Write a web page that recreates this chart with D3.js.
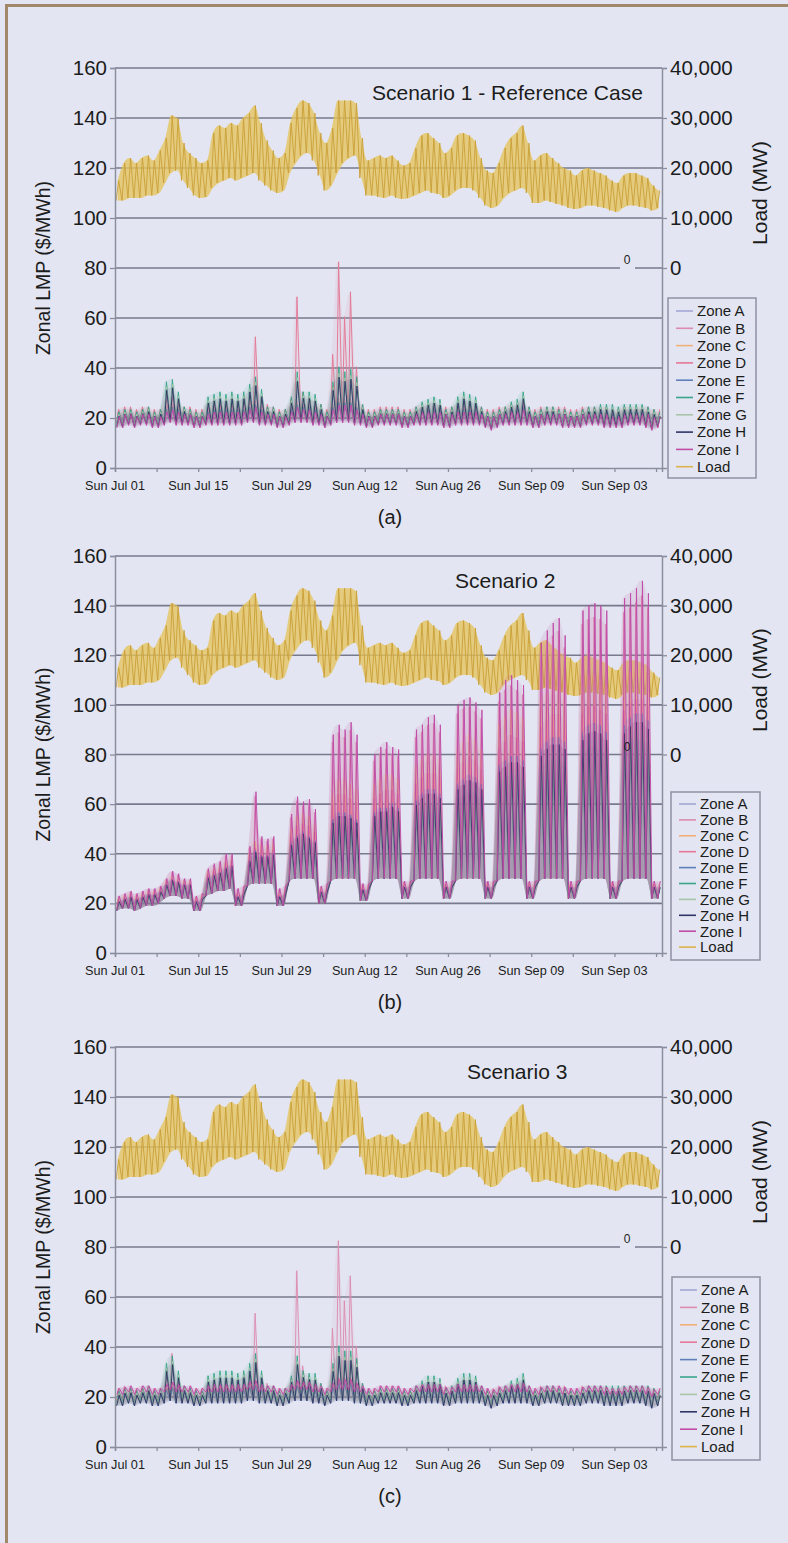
<!DOCTYPE html>
<html><head><meta charset="utf-8">
<script src="https://cdn.jsdelivr.net/npm/d3@7"></script>
<style>
body{margin:0;background:#e3e6f2;}
svg{display:block;font-family:"Liberation Sans",Arial,sans-serif;}
</style>
</head><body>
<svg id="chart" width="788" height="1543"></svg>
<script>
// ---------------- DATA (daily values) ----------------
const zoneNames = ['Zone A','Zone B','Zone C','Zone D','Zone E','Zone F','Zone G','Zone H','Zone I'];
const lmpTicks = [0,20,40,60,80,100,120,140,160];
const loadTicks = [0,10000,20000,30000,40000];
const dateLabelDays = [0,14,28,42,56,70,84];
const dateLabels = ['Sun Jul 01','Sun Jul 15','Sun Jul 29','Sun Aug 12','Sun Aug 26','Sun Sep 09','Sun Sep 03'];
const titles = ['Scenario 1 - Reference Case','Scenario 2','Scenario 3'];
const captions = ['(a)','(b)','(c)'];

// daily load peak / trough (MW), Jul 01 .. Sep 30
const loadPeak = [
 17500,21000,22000,21000,22000,22500,21500,
 23500,26000,30500,30000,25000,23000,22000,
 21000,21500,27000,28500,28000,29000,28500,
 30000,31000,32500,29000,25500,23500,22000,
 23000,29000,32000,33500,33000,31000,27000,
 25000,28000,33500,33500,33500,33000,26000,
 21500,22000,22500,22000,22500,21500,20500,
 21000,24000,26500,27000,26000,25000,23000,
 24000,26500,27000,26500,25500,22000,19500,
 19000,21000,24000,26000,27000,28500,25000,
 21500,22500,23000,22000,21000,20000,19500,
 18500,19500,20000,19500,19000,18500,17500,
 17000,18500,19000,19000,18500,18000,16500,
 15500];
const loadTrough = [
 13500,13500,14000,14000,14000,14500,14500,
 15000,17000,19000,19500,17500,16000,14500,
 14000,14200,16000,17000,17500,18000,17500,
 18000,18500,19000,17500,16500,15500,15000,
 15500,19000,21000,22500,23000,21500,18500,
 15500,16500,19000,21000,22000,22500,18000,
 14500,14500,14200,14000,14500,14000,13800,
 14000,14500,15000,15500,15000,14800,14000,
 14500,15500,16000,16000,15500,14000,12500,
 12000,12500,14000,15000,15500,16000,15000,
 13000,13000,13500,13200,12800,12500,12000,
 11800,12000,12500,12500,12200,12000,11500,
 11200,12000,12500,12500,12200,12000,11500,
 12000];

// Scenario 1 ($/MWh): daily trough, general peak, congested-zone peak, spike-zone peak
const s1Low = [
 17,17,18,17,18,18,17, 17,18,19,18,18,18,17, 17,18,18,18,18,18,18,
 18,19,19,18,18,18,17, 17,18,19,19,19,18,18, 17,18,19,19,19,18,18,
 17,17,18,18,18,18,17, 17,18,18,18,18,18,17, 17,18,18,18,18,18,17,
 16,17,18,18,18,18,18, 17,17,18,18,18,17,17, 17,17,18,18,18,17,17,
 17,17,18,18,18,17,16, 17];
const s1Body = [
 22,23,23,22,23,23,22, 22,24,25,24,23,23,22, 22,23,24,24,24,24,24,
 24,25,26,24,23,23,22, 22,24,26,25,25,24,23, 22,25,27,27,27,25,23,
 22,22,23,23,23,23,22, 22,23,24,24,24,24,23, 23,24,24,24,24,23,22,
 22,23,23,24,24,25,23, 22,23,23,23,23,23,22, 22,23,23,23,23,23,22,
 22,23,23,23,23,23,22, 22];
const s1Mid = [
 22,23,23,22,23,24,22, 23,34,35,30,24,23,22, 22,28,29,30,29,30,29,
 30,33,36,31,24,24,22, 23,28,38,30,30,29,25, 22,34,40,38,39,36,25,
 22,22,23,23,23,23,22, 22,24,26,27,28,27,23, 24,28,30,29,28,24,22,
 22,23,24,26,27,30,24, 22,23,24,24,23,23,22, 22,23,24,24,25,25,25,
 24,25,25,25,25,24,23, 22];
const s1Peak = [
 23,24,24,23,24,24,23, 23,27,28,26,24,24,23, 23,25,26,26,26,26,26,
 27,28,52,27,25,24,23, 23,27,68,30,28,26,25, 23,45,82,60,70,40,25,
 23,23,24,24,24,24,23, 23,24,25,25,26,25,24, 24,25,26,26,25,24,23,
 23,24,24,25,25,26,24, 23,24,24,24,24,24,23, 23,24,24,24,24,24,23,
 23,24,24,24,24,24,23, 23];

// Scenario 2 ($/MWh): daily trough, body peak, mid-zone peak, pink-zone peak
const s2Low = [
 17,18,18,17,18,19,19, 20,22,23,23,22,22,17, 17,23,24,25,25,26,19,
 19,27,28,28,28,28,19, 19,29,30,30,30,30,20, 20,29,30,30,30,30,21,
 21,29,30,30,30,30,22, 22,29,30,30,30,30,22, 22,29,30,30,30,30,22,
 22,29,30,30,30,30,22, 22,29,30,30,30,30,22, 22,29,30,30,30,30,22,
 22,29,30,30,30,30,22, 22];
const s2Body = [
 21,22,23,22,23,24,24, 25,28,30,29,28,28,21, 22,31,32,33,35,36,23,
 24,38,42,40,40,41,23, 24,45,48,50,48,46,25, 25,55,58,58,57,55,26,
 26,58,60,60,62,60,27, 27,63,66,68,68,66,27, 27,70,72,74,73,70,27,
 27,78,80,82,82,80,27, 27,85,88,90,90,88,27, 27,92,95,96,95,92,27,
 27,95,98,100,100,97,27, 27];
const s2Mid = [
 22,23,24,23,24,25,25, 26,29,31,30,29,29,22, 23,33,34,35,37,38,24,
 25,40,45,44,43,44,24, 25,50,55,56,55,52,26, 26,65,70,70,68,66,27,
 27,68,70,72,72,70,28, 28,75,78,80,80,78,28, 28,82,85,88,86,82,28,
 28,92,95,98,97,95,28, 28,102,105,108,108,105,28, 28,108,112,112,110,108,28,
 28,110,113,115,115,112,28, 28];
const s2Peak = [
 23,24,25,24,25,26,26, 27,30,33,32,30,30,23, 24,34,36,37,40,40,26,
 27,43,65,47,46,47,26, 27,56,63,61,62,58,27, 28,88,92,90,93,88,28,
 28,80,83,85,83,82,29, 29,90,92,95,96,92,29, 29,100,102,103,101,98,29,
 29,105,110,112,110,108,29, 29,125,130,133,135,128,29, 29,138,140,141,140,138,29,
 29,143,145,147,150,145,29, 29];

// Scenario 3 ($/MWh): congested-zone peak and spike-zone peak (base band as Scenario 1)
const s3Mid = [
 22,23,23,22,23,24,22, 23,33,36,30,24,23,22, 22,28,29,30,30,30,29,
 30,33,37,30,24,24,22, 23,28,36,30,29,29,25, 22,33,40,38,38,35,25,
 22,22,23,23,23,23,22, 22,24,26,28,28,27,23, 24,27,29,29,28,24,22,
 22,23,24,26,27,29,24, 22,23,24,24,23,23,22, 22,23,24,24,24,24,24,
 24,24,24,24,24,24,23, 22];
const s3Peak = [
 23,24,24,23,24,24,23, 23,28,37,27,24,24,23, 23,25,26,26,26,26,26,
 27,28,53,27,25,24,23, 23,27,70,32,28,26,25, 23,47,82,58,68,40,25,
 23,23,24,24,24,24,23, 23,24,25,25,26,25,24, 24,25,26,26,25,24,23,
 23,24,24,25,25,26,24, 23,24,24,24,24,24,23, 23,24,24,24,24,24,23,
 23,24,24,24,24,24,23, 23];

// zone -> [which daily peak series, share of swing, trough shift]
const s1Zones = [['body',1.0,0],['body',1.05,0.5],['body',0.95,0],['peak',1.0,0.5],['body',0.9,0],
                 ['mid',1.0,0.5],['mid',0.9,0],['mid',0.85,-0.5],['body',0.9,-1]];
const s2Zones = [['mid',0.95,0],['peak',0.95,0],['mid',1.0,0],['mid',0.85,0],['body',0.95,0],
                 ['body',0.8,0],['body',0.85,0],['body',0.9,0],['peak',1.0,0]];
const s3Zones = [['body',0.95,0],['peak',1.0,0.5],['body',0.9,0],['body',1.05,0.5],['body',0.9,-0.5],
                 ['mid',1.0,0.5],['mid',0.9,0],['mid',0.85,-0.5],['body',0.5,4]];

const scenarios = [
  {low:s1Low, body:s1Body, mid:s1Mid, peak:s1Peak, zones:s1Zones},
  {low:s2Low, body:s2Body, mid:s2Mid, peak:s2Peak, zones:s2Zones},
  {low:s1Low, body:s1Body, mid:s3Mid, peak:s3Peak, zones:s3Zones}
];

// ---------------- STYLE / LAYOUT ----------------
const zoneColors = ['#a4a8d4','#dc8cb0','#f0b07a','#e47896','#5f7fb8','#3aa58a','#a8c4a8','#2f3566','#c04ca6'];
const loadColor = '#dcb24a';
const panels = [
  {top:68,  bottom:468,  titleX:372, legend:{x:668,y:298,w:88,h:180,step:17.3,first:13}, zeroBg:true},
  {top:556, bottom:953,  titleX:455, legend:{x:671,y:792,w:89,h:168,step:15.9,first:12}, zeroBg:false},
  {top:1047,bottom:1447, titleX:467, legend:{x:672,y:1277,w:88,h:183,step:17.4,first:13}, zeroBg:true}
];
const X0 = 115, X1 = 662;
const DAY = 864e5, t0 = Date.UTC(2007,6,1);
const x = d3.scaleUtc().domain([new Date(t0), new Date(Date.UTC(2007,9,1))]).range([X0, X1]);
const dx = f => x(new Date(t0 + f*DAY));
const ink = '#1c1c1c', gridC = '#767a8c';

const svg = d3.select('#chart');
svg.append('rect').attr('width',788).attr('height',1543).attr('fill','#e3e6f2');
svg.append('path').attr('d','M6.5,1543 V5.5 H788').attr('fill','none')
   .attr('stroke','#a08868').attr('stroke-width',3);

panels.forEach((P, pi) => {
  const sc = scenarios[pi];
  const g = svg.append('g');
  const yL = d3.scaleLinear().domain([0,160]).range([P.bottom, P.top]);
  const yR = d3.scaleLinear().domain([-40000,40000]).range([P.bottom, P.top]);

  const clipId = 'clip' + pi;
  svg.append('clipPath').attr('id', clipId).append('rect')
     .attr('x', X0).attr('y', P.top - 2).attr('width', X1 - X0).attr('height', P.bottom - P.top + 2);

  // gridlines
  g.selectAll('.grid').data(lmpTicks.filter(d => d > 0)).join('line')
    .attr('x1', X0).attr('x2', X1).attr('y1', d => yL(d)).attr('y2', d => yL(d))
    .attr('stroke', gridC).attr('stroke-width', 1.6);

  const data = g.append('g').attr('clip-path', `url(#${clipId})`);

  // load band
  const days = d3.range(loadPeak.length);
  data.append('path').datum(days)
    .attr('d', d3.area().x(i => dx(i + 0.45)).y0(i => yR(loadTrough[i])).y1(i => yR(loadPeak[i])).curve(d3.curveMonotoneX))
    .attr('fill', '#e6c35c').attr('opacity', 0.78);
  const loadPts = [];
  days.forEach(i => { loadPts.push([i + 0.18, loadTrough[i]]); loadPts.push([i + 0.62, loadPeak[i]]); });
  data.append('path').datum(loadPts)
    .attr('d', d3.line().x(p => dx(p[0])).y(p => yR(p[1])))
    .attr('fill', 'none').attr('stroke', '#c99f38').attr('stroke-width', 0.9);

  // zones: soft daily band + zigzag line
  sc.zones.forEach((z, zi) => {
    const arr = sc[z[0]], share = z[1], off = z[2];
    const rows = days.map(i => {
      const lo = sc.low[i] + off;
      return {i, lo, hi: lo + share * (arr[i] - sc.low[i])};
    });
    data.append('path').datum(rows)
      .attr('d', d3.area().x(r => dx(r.i + 0.4)).y0(r => yL(r.lo)).y1(r => yL(r.hi)).curve(d3.curveMonotoneX))
      .attr('fill', zoneColors[zi]).attr('opacity', pi === 1 ? 0.13 : 0.1);
    const pts = [];
    rows.forEach(r => {
      pts.push([r.i + 0.2 + zi * 0.012, r.lo]);
      pts.push([r.i + 0.55 + zi * 0.02, r.hi]);
    });
    data.append('path').datum(pts)
      .attr('d', d3.line().x(p => dx(p[0])).y(p => yL(p[1])))
      .attr('fill', 'none').attr('stroke', zoneColors[zi]).attr('stroke-width', 1.0).attr('opacity', 0.95);
  });

  // stray "0" label on the 80 gridline
  if (P.zeroBg) g.append('rect').attr('x', 620).attr('y', yL(80) - 7).attr('width', 15).attr('height', 12).attr('fill', '#e3e6f2');
  g.append('text').attr('x', 627).attr('y', yL(80) - 4).attr('text-anchor', 'middle')
    .attr('font-size', 12).attr('fill', ink).text('0');

  // axes
  const left = g.append('g').attr('transform', `translate(${X0},0)`)
    .call(d3.axisLeft(yL).tickValues(lmpTicks).tickSize(5).tickPadding(3));
  const right = g.append('g').attr('transform', `translate(${X1},0)`)
    .call(d3.axisRight(yR).tickValues(loadTicks).tickFormat(d3.format(',')).tickSize(5).tickPadding(3));
  const bottom = g.append('g').attr('transform', `translate(0,${P.bottom})`)
    .call(d3.axisBottom(x).ticks(d3.utcSunday.every(1)).tickFormat('').tickSize(4));
  [left, right, bottom].forEach(a => {
    a.select('.domain').attr('stroke', '#8a8e9e').attr('stroke-width', 1.5);
    a.selectAll('.tick line').attr('stroke', '#8a8e9e').attr('stroke-width', 1.3);
    a.selectAll('.tick text').attr('font-size', 20.5).attr('fill', ink)
      .attr('font-family', '"Liberation Sans",Arial,sans-serif');
  });

  // date labels
  g.selectAll('.dl').data(dateLabelDays).join('text')
    .attr('x', d => dx(d)).attr('y', P.bottom + 21.5).attr('text-anchor', 'middle')
    .attr('font-size', 12.7).attr('fill', ink).text((d, i) => dateLabels[i]);

  // axis titles
  g.append('text').attr('transform', `translate(50,${(P.top + P.bottom) / 2}) rotate(-90)`)
    .attr('text-anchor', 'middle').attr('font-size', 19.5).attr('fill', ink).text('Zonal LMP ($/MWh)');
  g.append('text').attr('transform', `translate(767,${yR(15000)}) rotate(-90)`)
    .attr('text-anchor', 'middle').attr('font-size', 21).attr('fill', ink).text('Load (MW)');

  // panel title and caption
  g.append('text').attr('x', P.titleX).attr('y', P.top + 32).attr('font-size', 21).attr('fill', ink).text(titles[pi]);
  g.append('text').attr('x', 390).attr('y', P.bottom + 56).attr('text-anchor', 'middle')
    .attr('font-size', 20).attr('fill', ink).text(captions[pi]);

  // legend
  const L = P.legend;
  const lg = g.append('g');
  lg.append('rect').attr('x', L.x).attr('y', L.y).attr('width', L.w).attr('height', L.h)
    .attr('fill', 'none').attr('stroke', '#8d91a2').attr('stroke-width', 1.5);
  const entries = zoneNames.map((n, i) => ({n, c: zoneColors[i]})).concat([{n: 'Load', c: loadColor}]);
  entries.forEach((e, i) => {
    const yy = L.y + L.first + i * L.step;
    lg.append('line').attr('x1', L.x + 8).attr('x2', L.x + 25).attr('y1', yy).attr('y2', yy)
      .attr('stroke', e.c).attr('stroke-width', 1.6);
    lg.append('text').attr('x', L.x + 29).attr('y', yy + 5.3).attr('font-size', 15).attr('fill', ink).text(e.n);
  });
});
</script>
</body></html>
